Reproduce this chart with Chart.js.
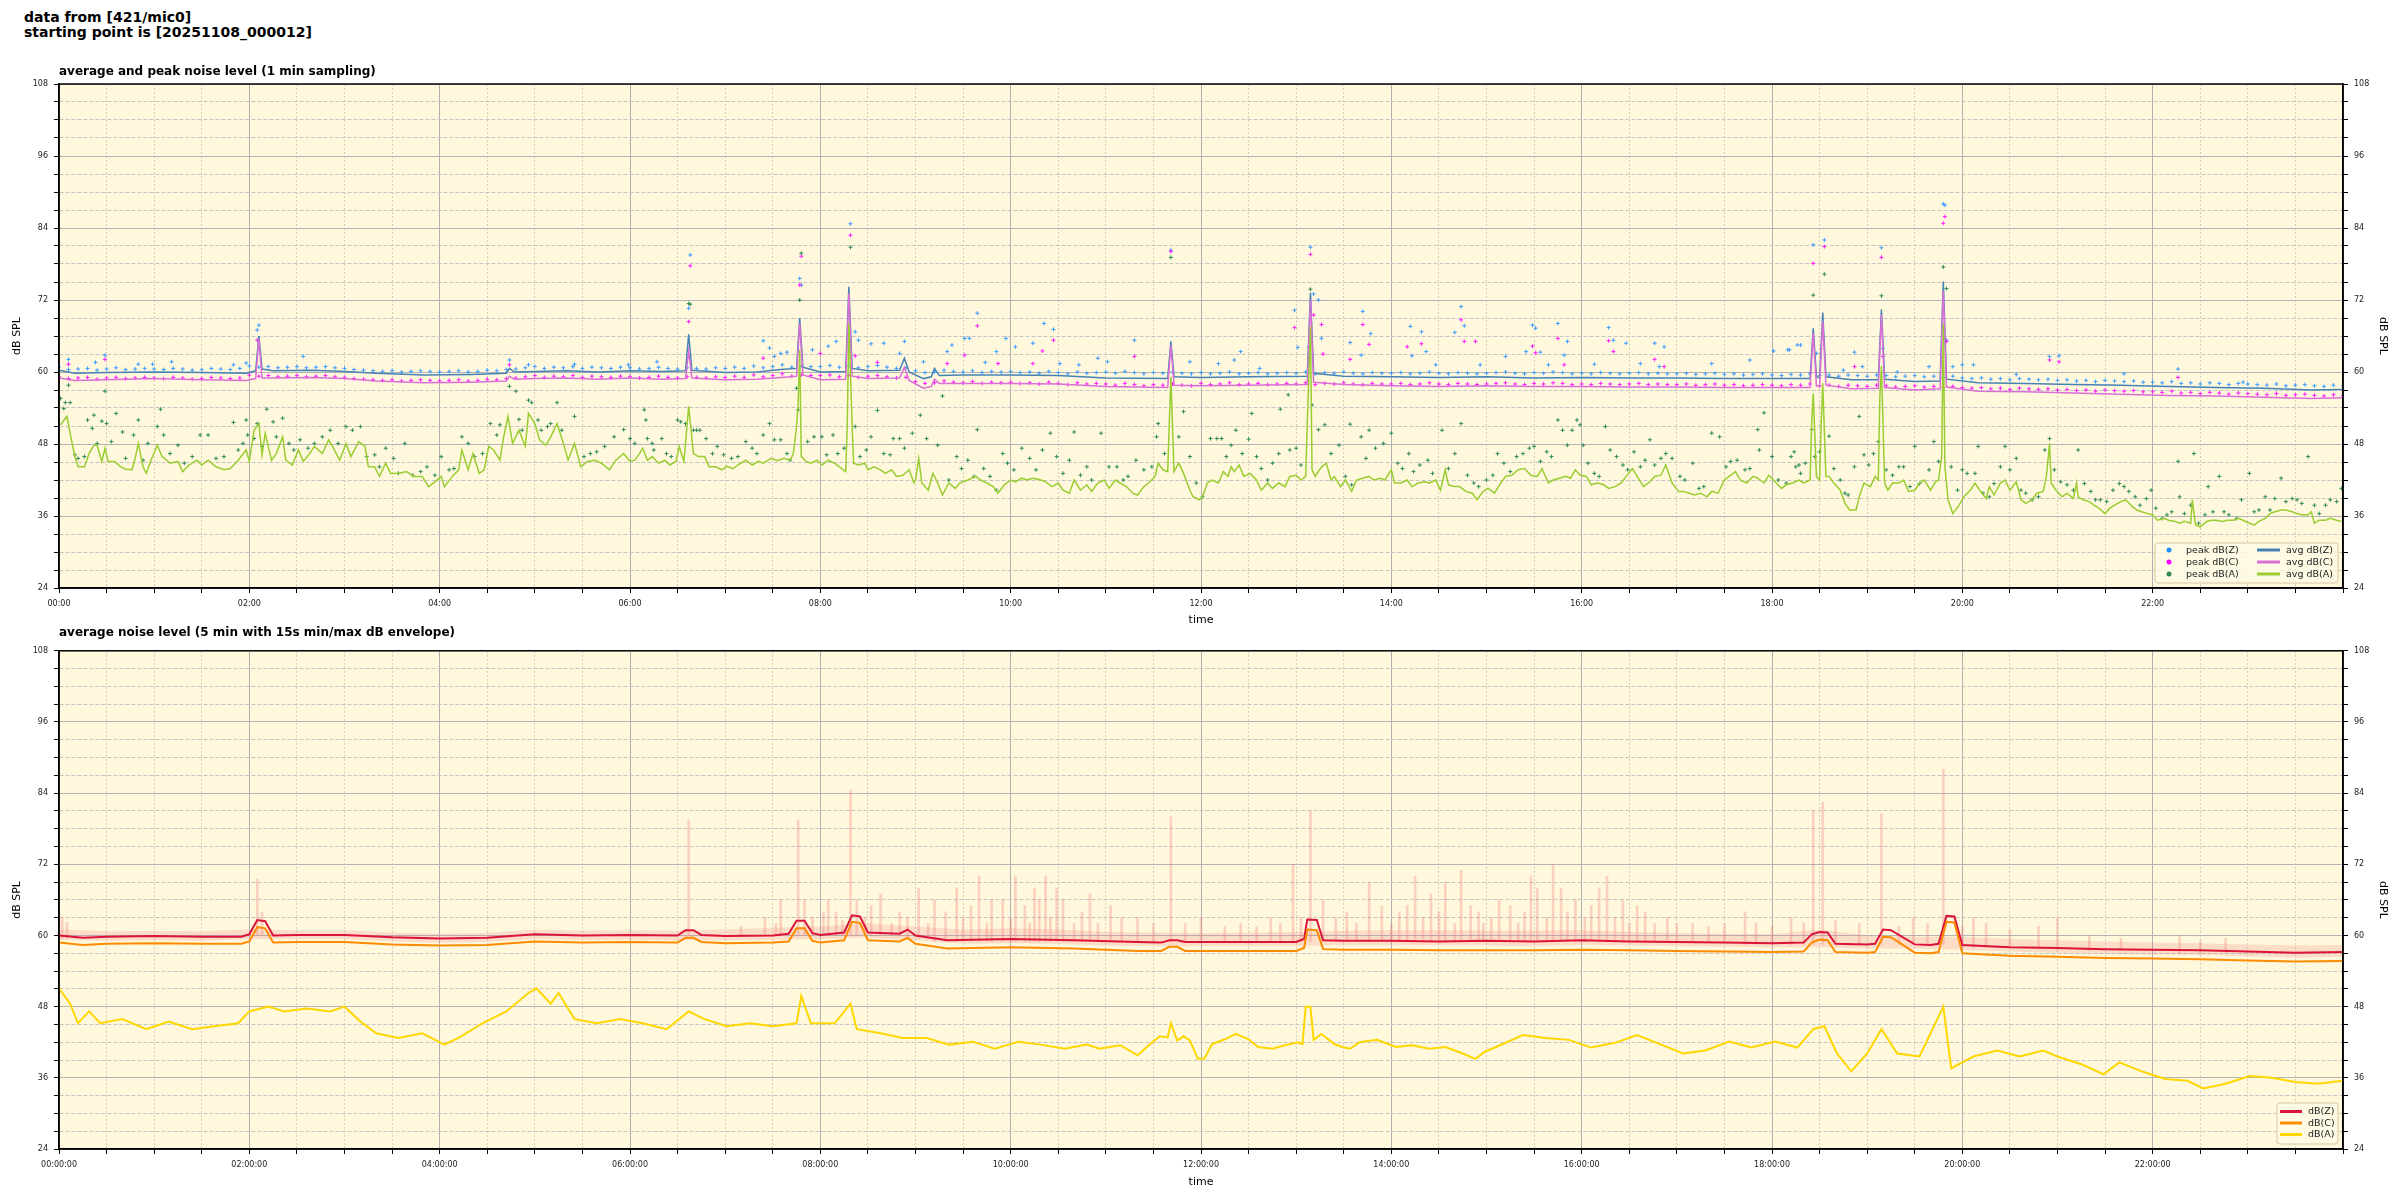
<!DOCTYPE html>
<html><head><meta charset="utf-8">
<script src="https://cdn.jsdelivr.net/npm/chart.js@4.4.1/dist/chart.umd.min.js"></script>
<style>
html,body{margin:0;padding:0;background:#fff;width:2400px;height:1200px;overflow:hidden;font-family:"DejaVu Sans",sans-serif;}
#title{position:absolute;left:24px;top:10px;font-weight:bold;font-size:14px;line-height:15px;color:#000;z-index:2;}
.sub{position:absolute;left:59px;font-weight:bold;font-size:12px;line-height:14px;color:#000;z-index:2;white-space:nowrap;}
canvas{position:absolute;left:0;}
</style></head><body>
<div id="title">data from [421/mic0]<br>starting point is [20251108_000012]</div>
<canvas id="c1" width="2400" height="572" style="top:60px;width:2400px;height:572px"></canvas>
<canvas id="c2" width="2400" height="560" style="top:640px;width:2400px;height:560px"></canvas>
<div class="sub" style="top:64px">average and peak noise level (1 min sampling)</div>
<div class="sub" style="top:625px">average noise level (5 min with 15s min/max dB envelope)</div>
<script>
// ---------- DATA (time in minutes after 00:00, value in dB SPL) ----------
const avgZ = [[0,60.3],[10,59.8],[30,59.9],[60,60.0],[90,59.9],[118,59.8],[124,60.2],[126,66.0],[128,60.5],[135,60.2],[160,60.3],[180,60.1],[200,59.8],[230,59.5],[260,59.6],[282,59.8],[284,60.6],[287,60.0],[300,60.1],[320,60.2],[340,60.0],[360,60.2],[380,60.1],[395,60.2],[397,66.3],[399,60.3],[420,59.9],[440,60.0],[455,60.4],[465,60.6],[467,69.0],[469,60.8],[480,60.0],[496,60.1],[498,74.2],[500,60.6],[510,60.2],[530,60.3],[533,62.3],[536,60.0],[545,58.9],[550,59.2],[552,60.6],[555,59.4],[570,59.5],[600,59.5],[630,59.4],[660,59.0],[699,58.9],[701,65.1],[703,59.2],[720,59.1],[750,59.2],[787,59.3],[789,73.2],[791,59.8],[810,59.3],[840,59.2],[870,59.1],[900,59.2],[930,59.0],[960,59.1],[990,59.0],[1020,59.0],[1050,58.9],[1080,58.9],[1104,58.9],[1106,67.3],[1108,59.2],[1110,59.0],[1112,69.9],[1114,59.2],[1130,58.7],[1147,58.7],[1149,70.4],[1151,58.8],[1170,58.4],[1186,58.5],[1188,75.1],[1190,58.8],[1210,58.2],[1240,58.1],[1270,57.9],[1300,57.8],[1330,57.6],[1360,57.4],[1390,57.3],[1420,57.0],[1440,57.1]];
const avgC = [[0,59.0],[10,58.6],[30,58.7],[60,58.9],[90,58.7],[118,58.6],[124,58.9],[126,65.5],[128,59.0],[135,59.0],[160,59.1],[180,58.9],[200,58.5],[230,58.2],[260,58.3],[282,58.5],[284,59.3],[287,58.8],[300,58.9],[320,59.0],[340,58.8],[360,59.0],[380,58.8],[395,58.9],[397,63.5],[399,59.0],[420,58.7],[440,58.8],[455,59.1],[465,59.3],[467,68.1],[469,59.5],[480,58.7],[496,58.8],[498,73.1],[500,59.3],[510,58.9],[530,59.0],[533,60.8],[536,58.6],[545,57.3],[550,57.6],[552,58.8],[555,58.1],[570,58.1],[600,58.1],[630,58.0],[660,57.6],[699,57.4],[701,64.5],[703,57.8],[720,57.7],[750,57.8],[787,57.9],[789,72.0],[791,58.3],[810,57.9],[840,57.7],[870,57.6],[900,57.7],[930,57.6],[960,57.6],[990,57.5],[1020,57.5],[1050,57.4],[1080,57.4],[1104,57.4],[1106,66.5],[1108,57.7],[1110,57.6],[1112,68.5],[1114,57.8],[1130,57.2],[1147,57.3],[1149,69.5],[1151,57.4],[1170,57.0],[1186,57.2],[1188,73.5],[1190,57.5],[1210,56.8],[1240,56.7],[1270,56.5],[1300,56.3],[1330,56.1],[1360,56.0],[1390,55.8],[1420,55.6],[1440,55.7]];
const avgA = [[1,51.2],[5,52.6],[7,49.8],[10,45.9],[12,44.2],[16,44.2],[19,46.4],[22,47.8],[24,47.8],[27,45.1],[29,47.3],[31,45.1],[35,45.1],[39,44.2],[42,43.8],[46,43.7],[48,45.6],[50,48.1],[53,44.2],[55,43.1],[58,45.3],[62,47.8],[65,45.9],[70,44.8],[75,45.1],[78,43.4],[82,44.5],[87,45.3],[90,44.5],[94,45.3],[99,44.2],[104,43.7],[108,43.9],[113,45.3],[118,47.0],[120,45.1],[123,50.3],[126,51.4],[128,46.2],[130,49.8],[134,45.3],[137,46.4],[141,49.2],[143,45.3],[147,44.5],[151,47.0],[154,45.1],[158,46.4],[161,47.6],[166,46.4],[170,48.7],[173,47.3],[177,45.3],[181,48.1],[184,45.9],[189,48.4],[193,47.6],[195,44.2],[199,44.2],[202,42.6],[206,44.8],[209,43.1],[214,43.1],[219,43.4],[224,42.6],[229,42.6],[233,40.9],[237,41.7],[241,42.6],[243,40.9],[248,42.6],[252,43.7],[254,47.0],[258,43.7],[261,46.4],[265,43.1],[268,43.7],[271,47.6],[274,47.0],[278,45.3],[280,48.7],[283,52.6],[286,48.1],[290,50.3],[294,47.6],[296,53.1],[300,51.4],[303,48.7],[307,47.8],[310,49.2],[314,51.4],[318,48.1],[321,45.3],[325,48.1],[329,44.2],[333,45.1],[338,45.3],[342,44.8],[347,43.7],[351,45.3],[356,46.4],[360,45.1],[363,45.3],
[366,46.4],[368,47.3],[371,45.3],[374,45.9],[378,44.8],[382,45.3],[385,44.5],[389,45.1],[391,47.6],[394,45.1],[395,48.1],[397,54.3],[400,46.4],[403,45.9],[407,45.9],[410,44.2],[414,44.2],[418,43.7],[421,44.3],[425,43.9],[428,44.5],[433,45.3],[437,44.5],[441,45.1],[444,44.8],[449,45.6],[453,45.2],[457,45.6],[461,45.3],[463,46.4],[465,50.9],[466,54.8],[467,63.7],[468,45.9],[471,45.1],[474,44.8],[478,45.3],[481,44.5],[485,45.3],[489,44.8],[492,44.2],[496,43.4],[497,51.4],[498,68.1],[500,51.4],[501,44.8],[504,44.5],[508,44.8],[510,43.7],[514,44.2],[518,43.7],[521,43.1],[525,43.7],[528,42.6],[532,42.8],[536,43.7],[539,41.5],[540,42.0],[542,45.6],[544,41.5],[548,40.3],[551,43.1],[554,41.5],[557,39.5],[561,41.5],[565,40.6],[568,41.5],[573,42.0],[578,42.6],[581,42.0],[585,41.5],[589,40.9],[592,39.8],[596,41.2],[600,42.0],[603,41.7],[607,42.3],[610,42.0],[614,42.3],[619,42.0],[622,41.7],[626,40.9],[630,41.5],[633,40.3],[637,39.8],[640,42.0],[644,40.3],[648,41.2],[651,40.1],[655,41.5],[659,42.0],[662,40.6],[666,42.0],[669,41.5],[673,40.9],[677,39.8],[680,39.5],[684,40.9],[687,41.5],[691,42.6],[693,44.8],[696,43.7],[699,43.4],[700,51.4],[701,59.2],[703,43.4],[706,44.8],[709,43.1],[713,40.3],[715,39.2],[719,38.7],[721,39.2],[724,41.5],[727,42.0],[731,41.5],
[734,43.4],[737,42.6],[739,44.2],[741,43.4],[744,44.5],[747,42.6],[751,43.1],[755,42.0],[758,40.3],[762,41.5],[765,40.6],[769,41.5],[773,40.9],[776,42.6],[780,42.8],[783,42.0],[786,42.6],[787,51.4],[789,67.6],[790,43.7],[792,42.6],[796,44.2],[799,44.8],[802,42.0],[804,42.6],[808,40.9],[811,42.0],[815,40.1],[818,42.0],[822,42.3],[826,42.6],[829,42.0],[833,42.3],[836,42.0],[840,43.7],[842,41.5],[846,41.5],[850,42.0],[853,40.9],[857,41.5],[861,41.7],[864,41.5],[868,42.0],[871,40.3],[874,43.7],[876,41.2],[880,40.9],[883,40.9],[887,40.1],[891,39.8],[894,38.7],[898,40.1],[901,40.6],[905,39.8],[909,41.5],[912,42.6],[916,42.8],[920,43.7],[924,43.9],[928,42.8],[932,42.6],[935,43.9],[939,41.5],[942,42.0],[946,42.3],[950,42.6],[953,42.3],[956,43.7],[959,42.8],[963,42.6],[966,41.2],[970,41.5],[974,41.2],[977,40.6],[981,40.9],[985,41.5],[988,42.6],[992,43.9],[995,42.6],[999,40.9],[1003,41.7],[1006,42.6],[1010,42.8],[1013,44.5],[1017,41.5],[1021,40.1],[1024,40.1],[1028,39.8],[1031,39.5],[1035,39.8],[1039,39.2],[1042,40.1],[1046,39.8],[1050,42.0],[1053,42.6],[1057,43.4],[1060,42.0],[1064,41.5],[1068,42.6],[1071,42.3],[1075,41.5],[1078,42.8],[1082,41.7],[1086,40.6],[1089,41.2],[1093,41.5],[1097,42.0],[1100,41.5],[1104,42.0],[1105,51.4],[1106,56.4],[1108,42.6],
[1110,42.0],[1111,51.4],[1112,58.1],[1114,42.6],[1116,42.6],[1119,41.5],[1123,40.3],[1126,38.1],[1129,37.0],[1133,37.0],[1135,39.2],[1138,41.5],[1142,40.9],[1145,42.6],[1147,42.0],[1148,55.9],[1149,61.0],[1151,41.5],[1153,40.3],[1156,41.5],[1160,41.5],[1163,42.0],[1166,40.1],[1170,40.3],[1173,41.5],[1176,42.0],[1180,40.3],[1183,41.7],[1185,42.0],[1187,45.9],[1188,68.1],[1189,44.2],[1191,38.7],[1194,36.4],[1198,37.8],[1201,39.2],[1205,40.3],[1208,41.5],[1211,40.3],[1215,38.9],[1217,40.9],[1220,39.5],[1224,41.5],[1227,42.0],[1230,40.3],[1234,41.7],[1237,38.7],[1240,38.1],[1244,38.7],[1247,39.8],[1251,40.1],[1253,42.6],[1255,48.1],[1256,41.5],[1259,40.3],[1263,39.2],[1266,39.8],[1270,38.9],[1272,41.5],[1273,39.2],[1276,38.7],[1280,38.4],[1283,37.8],[1286,37.3],[1290,36.4],[1293,37.3],[1296,37.8],[1300,38.4],[1303,38.7],[1307,37.6],[1310,37.0],[1313,36.7],[1317,36.4],[1320,36.2],[1323,35.3],[1327,35.6],[1330,35.3],[1334,35.1],[1337,34.8],[1340,35.1],[1344,34.8],[1345,38.7],[1347,34.5],[1350,34.2],[1354,35.1],[1357,35.3],[1360,35.3],[1364,35.1],[1367,35.3],[1371,35.3],[1374,35.6],[1377,35.3],[1381,34.8],[1384,34.5],[1387,35.1],[1391,35.6],[1394,36.4],[1397,36.7],[1401,37.0],[1404,37.0],[1408,36.7],[1411,36.4],[1414,36.2],[1418,36.2],[1420,36.7],[1422,34.8],[1425,35.3],[1429,35.3],[1432,35.6],[1436,35.3],[1439,35.1]];

// dense 1-min peak bands, sampled every 6 minutes from 00:00
const bandStepMin = 6;
const peakZBand = [60.8,60.4,60.5,60.6,60.3,60.5,60.7,60.4,60.5,60.6, 60.5,60.4,60.6,60.5,60.3,60.4,60.6,60.5,60.4,60.6, 61.0,60.8,60.9,60.7,60.8,60.9,60.7,60.8,60.9,60.7, 60.6,60.4,60.3,60.2,60.1,60.2,60.0,60.1,60.2,60.1, 60.0,60.1,60.2,60.0,60.1,60.3,60.2,60.4,60.5,60.7, 60.9,60.6,60.8,60.7,60.9,60.6,60.8,60.7,60.6,60.8, 60.7,60.5,60.6,60.8,60.6,60.5,60.7,60.6,60.5,60.7, 60.6,60.8,60.6,61.0,60.7,60.9,61.2,60.8,61.0,60.9, 60.9,61.1,60.8,61.0,60.7,60.9,61.1,60.8,60.6,60.7, 60.2,59.9,60.0,60.3,60.1,60.0,60.2,59.9,60.1,60.0, 60.1,59.9,60.0,59.8,60.1,59.9,59.7,60.0,59.8,59.9, 60.0,59.8,60.1,59.9,59.7,59.9,59.8,60.0,59.8,59.7, 59.9,59.7,59.8,60.0,59.7,59.8,59.9,59.7,59.8,59.9, 59.8,60.0,59.7,59.9,59.8,60.0,59.8,59.7,59.9,59.8, 59.8,59.9,59.7,59.8,60.0,59.8,59.7,59.9,59.8,59.7, 59.8,59.9,60.0,59.8,59.7,59.9,59.8,60.0,59.9,59.7, 59.8,59.7,59.9,59.8,59.7,59.8,59.9,59.7,59.8,59.7, 59.7,59.8,59.6,59.7,59.8,59.6,59.7,59.5,59.6,59.7, 59.5,59.4,59.6,59.5,59.7,59.4,59.5,59.3,59.5,59.4, 59.3,59.5,59.4,59.2,59.3,59.4,59.2,59.3,59.1,59.3, 59.0,58.9,59.0,58.8,58.9,58.7,58.9,58.8,58.7,58.8, 58.6,58.7,58.5,58.6,58.4,58.6,58.5,58.4,58.5,58.3, 58.3,58.2,58.4,58.1,58.2,58.0,58.2,58.1,57.9,58.1, 58.0,57.9,57.8,58.0,57.7,57.8,57.9,57.7,57.6,57.8, 57.7];
const peakCBand = [59.2,58.9,59.0,59.1,58.8,59.0,59.1,58.9,59.0,59.1, 59.0,58.9,59.1,59.0,58.8,58.9,59.1,59.0,58.9,59.0, 59.5,59.3,59.4,59.2,59.3,59.4,59.2,59.3,59.4,59.2, 59.1,58.9,58.8,58.7,58.6,58.7,58.5,58.6,58.7,58.6, 58.5,58.6,58.7,58.5,58.6,58.8,58.7,58.9,59.0,59.2, 59.4,59.1,59.3,59.2,59.4,59.1,59.3,59.2,59.1,59.3, 59.2,59.0,59.1,59.3,59.1,59.0,59.2,59.1,59.0,59.2, 59.1,59.3,59.1,59.5,59.2,59.4,59.7,59.3,59.5,59.4, 59.4,59.5,59.2,59.4,59.1,59.3,59.4,59.2,59.0,59.1, 58.4,58.1,58.2,58.5,58.3,58.2,58.4,58.1,58.3,58.2, 58.3,58.1,58.2,58.0,58.3,58.1,57.9,58.2,58.0,58.1, 58.0,57.8,58.1,57.9,57.7,57.9,57.8,58.0,57.8,57.7, 58.1,57.9,58.0,58.2,57.9,58.0,58.1,57.9,58.0,58.1, 58.0,58.2,57.9,58.1,58.0,58.2,58.0,57.9,58.1,58.0, 58.0,58.1,57.9,58.0,58.2,58.0,57.9,58.1,58.0,57.9, 58.0,58.1,58.2,58.0,57.9,58.1,58.0,58.2,58.1,57.9, 58.0,57.9,58.1,58.0,57.9,58.0,58.1,57.9,58.0,57.9, 57.9,58.0,57.8,57.9,58.0,57.8,57.9,57.7,57.8,57.9, 57.8,57.7,57.9,57.8,58.0,57.7,57.8,57.6,57.8,57.7, 57.6,57.8,57.7,57.5,57.6,57.7,57.5,57.6,57.4,57.6, 57.4,57.3,57.4,57.2,57.3,57.1,57.3,57.2,57.1,57.2, 57.0,57.1,56.9,57.0,56.8,57.0,56.9,56.8,56.9,56.7, 56.7,56.6,56.8,56.5,56.6,56.4,56.6,56.5,56.3,56.5, 56.4,56.3,56.2,56.4,56.1,56.2,56.3,56.1,56.0,56.2, 56.1];
const peakZOut = [[6,62.1],[23,61.6],[29,62.8],[50,61.3],[59,61.3],[71,61.7],[110,61.2],[118,61.5],[125,67.0],[126,67.8],[154,62.6],[284,62.0],[296,61.2],[325,61.3],[359,61.2],[377,61.7],[397,70.6],[398,79.5],[444,65.2],[448,64.0],[451,62.6],[455,63.1],[459,63.3],[467,75.6],[468,74.5],[475,63.7],[485,64.3],[490,65.1],[499,84.7],[502,66.7],[504,65.3],[512,64.7],[520,64.8],[530,63.1],[533,65.1],[545,61.7],[560,63.4],[563,64.5],[571,65.6],[574,65.6],[579,69.8],[584,61.6],[591,63.4],[597,65.6],[603,64.2],[614,64.8],[621,68.1],[627,67.1],[631,61.4],[643,61.2],[655,62.3],[661,61.7],[678,65.3],[701,80.3],[713,61.7],[731,61.4],[741,62.0],[745,63.4],[757,60.6],[779,70.3],[781,64.1],[788,64.2],[789,80.8],[791,73.0],[794,72.0],[796,65.6],[814,64.9],[821,62.8],[822,70.1],[827,66.4],[852,67.6],[853,62.7],[859,66.7],[862,63.4],[868,61.2],[880,66.6],[884,70.9],[886,67.7],[896,61.2],[912,62.6],[925,63.4],[929,67.8],[931,67.3],[934,63.3],[939,61.2],[945,68.1],[949,62.8],[951,65.1],[968,61.3],[977,67.4],[980,65.3],[988,64.8],[997,61.4],[1006,64.8],[1009,60.9],[1012,64.2],[1042,61.4],[1066,62.0],[1081,63.5],[1090,63.7],[1091,63.7],[1096,64.5],[1098,64.5],[1106,81.2],[1108,63.1],[1113,82.0],[1125,60.3],[1132,63.3],[1137,60.9],[1149,80.7],[1150,63.9],[1159,60.0],[1179,60.9],[1188,88.0],[1189,87.8],[1190,65.3],[1194,60.9],[1200,61.2],[1207,61.2],[1234,59.6],[1255,62.6],[1261,62.7],[1302,59.7],[1336,60.5],[1377,58.3]];
const peakCOut = [[6,61.3],[29,62.1],[125,65.3],[284,61.2],[397,68.4],[398,77.7],[444,62.3],[467,74.5],[468,79.3],[480,63.1],[499,82.8],[502,62.7],[516,61.6],[560,61.4],[571,62.8],[579,67.7],[592,61.4],[614,61.4],[620,63.5],[627,65.3],[678,62.6],[701,80.1],[779,67.4],[789,79.6],[791,69.5],[796,67.9],[797,63.0],[814,62.1],[822,67.9],[826,64.6],[850,64.2],[859,64.7],[884,68.7],[886,65.1],[893,65.1],[929,64.3],[931,63.2],[945,65.6],[949,61.2],[977,65.2],[980,63.4],[1006,62.1],[1012,60.9],[1106,78.1],[1113,80.9],[1132,60.9],[1149,79.1],[1150,62.6],[1188,84.8],[1189,85.9],[1190,65.1],[1255,62.0],[1261,61.7],[1336,59.1]];
const peakA = [[1,55.6],[3,53.9],[4,54.9],[6,57.8],[7,54.9],[10,46.2],[12,45.6],[16,45.9],[18,52.0],[21,50.6],[22,52.8],[24,48.1],[27,51.8],[29,56.8],[30,51.4],[33,48.4],[36,53.1],[40,50.0],[42,45.6],[47,49.5],[50,52.0],[53,45.3],[56,48.1],[62,50.9],[64,53.8],[66,49.5],[70,46.4],[75,47.8],[79,44.8],[84,45.9],[89,49.5],[94,49.5],[99,45.6],[104,45.9],[110,51.6],[113,47.0],[116,48.1],[118,52.0],[119,49.5],[123,48.9],[125,51.4],[128,47.6],[131,53.8],[135,51.7],[137,49.2],[141,52.3],[145,48.1],[148,47.0],[152,48.7],[157,47.3],[161,48.1],[166,49.2],[171,50.3],[176,48.1],[181,50.9],[185,50.3],[190,50.9],[194,45.9],[199,46.2],[202,44.2],[206,47.3],[211,45.6],[214,43.1],[218,48.1],[223,42.8],[228,43.4],[232,44.2],[237,42.8],[241,45.9],[246,43.7],[249,43.9],[254,49.2],[258,48.1],[262,45.9],[267,46.4],[272,51.4],[276,49.5],[278,51.2],[284,57.6],[288,56.8],[290,52.1],[292,50.3],[296,55.3],[298,54.9],[302,52.0],[304,50.3],[308,50.9],[310,51.4],[314,54.9],[317,50.3],[325,52.6],[331,45.9],[335,46.4],[339,46.7],[344,47.6],[350,49.2],[356,50.4],[360,48.9],[363,48.1],
[369,53.7],[370,52.0],[371,48.9],[374,48.1],[375,47.0],[380,48.9],[383,46.4],[386,45.9],[390,52.0],[392,51.7],[395,51.4],[397,71.4],[398,71.3],[400,50.3],[402,50.3],[404,50.3],[408,48.9],[412,46.4],[415,47.6],[419,46.2],[424,45.6],[428,45.9],[433,48.4],[437,47.3],[440,46.4],[444,49.5],[448,51.4],[451,48.7],[455,48.7],[459,46.4],[461,45.3],[465,57.3],[466,53.7],[467,72.0],[468,79.8],[472,48.4],[476,49.2],[481,49.2],[484,46.2],[488,49.5],[491,46.4],[495,47.3],[499,80.8],[502,50.9],[505,45.9],[509,47.0],[512,49.2],[516,53.6],[520,46.4],[524,46.2],[526,48.9],[530,48.9],[533,47.3],[538,49.8],[543,52.8],[547,48.9],[554,47.8],[557,56.0],[561,42.0],[566,45.9],[569,43.9],[573,45.3],[577,42.6],[579,50.4],[583,43.9],[587,42.6],[591,40.3],[595,46.4],[598,44.8],[602,43.7],[607,47.3],[612,45.6],[616,43.7],[620,47.0],[625,49.8],[629,45.9],[633,43.1],[637,45.3],[640,50.0],[644,42.8],[648,44.2],[651,42.0],[657,49.8],[662,44.2],[667,44.2],[671,42.0],[674,42.6],[679,45.3],[684,43.7],[689,44.2],[692,49.2],[693,51.4],[697,46.4],[701,79.1],[706,49.2],[709,53.4],[713,45.9],[717,41.5],[721,39.2],[726,48.9],[730,48.9],
[733,48.9],[736,45.9],[739,47.8],[742,50.3],[746,46.4],[750,48.8],[752,53.1],[755,45.9],[758,43.9],[762,42.0],[765,44.8],[769,46.4],[770,53.8],[775,56.2],[776,47.0],[780,47.3],[783,44.5],[789,73.8],[790,54.5],[794,50.4],[798,51.2],[802,46.4],[807,47.8],[811,42.6],[814,51.3],[815,41.2],[821,49.2],[824,45.6],[826,50.3],[830,47.3],[835,48.1],[840,49.8],[844,44.8],[847,43.9],[851,46.4],[854,43.4],[858,44.5],[863,45.3],[866,43.1],[872,50.3],[876,43.9],[880,46.4],[884,51.4],[888,42.8],[892,41.5],[895,40.9],[900,42.0],[904,42.8],[907,46.4],[911,44.8],[915,43.4],[919,45.9],[923,46.4],[927,47.3],[930,47.6],[934,45.1],[938,46.7],[941,45.9],[945,52.0],[948,50.3],[951,47.8],[954,50.3],[957,52.0],[959,51.2],[961,47.8],[964,44.8],[968,43.1],[971,42.6],[975,50.9],[978,47.0],[982,45.9],[986,44.5],[989,43.7],[993,46.7],[997,44.2],[1000,45.3],[1003,48.7],[1006,44.5],[1010,45.6],[1013,46.4],[1017,45.6],[1022,42.6],[1025,42.0],[1030,44.8],[1034,40.6],[1037,40.9],[1042,49.8],[1047,49.2],[1051,44.2],[1054,45.1],[1058,45.3],[1063,43.7],[1066,43.9],[1071,50.4],[1072,47.0],[1075,53.2],[1080,45.9],[1084,42.0],[1089,41.5],[1092,45.9],[1094,46.7],[1095,44.2],[1097,44.5],[1098,43.1],[1101,44.8],[1105,50.4],[1106,72.8],[1107,45.9],
[1110,46.7],[1113,76.3],[1116,49.3],[1119,43.9],[1123,42.0],[1126,39.8],[1128,39.5],[1132,44.2],[1135,52.6],[1138,46.2],[1141,44.5],[1144,46.4],[1147,48.4],[1149,72.7],[1152,43.7],[1156,42.8],[1160,44.2],[1163,44.2],[1167,40.9],[1170,47.6],[1173,41.4],[1179,43.7],[1182,48.4],[1185,45.1],[1188,77.5],[1190,73.9],[1193,44.2],[1197,40.3],[1200,43.7],[1203,43.1],[1208,43.1],[1210,47.6],[1213,39.8],[1217,39.2],[1220,41.4],[1224,44.2],[1227,47.6],[1230,43.7],[1234,45.6],[1237,40.3],[1240,39.8],[1244,38.7],[1248,39.2],[1252,47.0],[1255,48.9],[1258,43.7],[1262,41.7],[1266,41.2],[1270,40.3],[1273,47.0],[1277,41.4],[1281,40.1],[1284,38.7],[1287,38.7],[1291,38.4],[1295,40.3],[1299,41.4],[1302,40.9],[1305,40.1],[1309,39.2],[1312,37.8],[1316,38.9],[1319,40.3],[1322,37.3],[1326,35.6],[1329,36.2],[1332,36.7],[1336,45.1],[1337,39.2],[1340,36.4],[1344,37.8],[1346,46.4],[1349,34.8],[1353,36.2],[1355,40.9],[1358,36.7],[1362,42.6],[1365,36.7],[1368,36.2],[1373,35.6],[1376,38.7],[1381,43.1],[1384,36.7],[1387,37.0],[1391,39.2],[1394,37.0],[1397,38.9],[1401,42.3],[1404,38.4],[1408,38.9],[1411,38.7],[1414,38.1],[1418,45.9],[1422,37.8],[1425,36.4],[1429,37.8],[1432,38.7],[1436,38.4],[1439,40.6]];

// 5-minute averages (bottom panel)
const avg5Z = [[0,60.0],[15,59.6],[30,59.8],[60,59.9],[90,59.8],[115,59.8],[120,60.2],[125,62.6],[130,62.4],[135,60.0],[150,60.1],[180,60.1],[210,59.7],[240,59.5],[270,59.6],[285,59.9],[300,60.2],[330,60.0],[360,60.1],[390,60.0],[395,60.9],[400,60.9],[405,60.1],[420,59.9],[450,60.0],[460,60.3],[465,62.5],[470,62.5],[475,60.4],[480,60.1],[495,60.5],[500,63.4],[505,63.2],[510,60.5],[530,60.3],[535,61.0],[540,60.0],[560,59.2],[600,59.4],[640,59.2],[680,58.9],[695,58.8],[700,59.2],[705,59.2],[710,58.9],[740,58.9],[780,58.9],[785,59.4],[787,62.7],[793,62.6],[797,59.2],[810,59.1],[840,59.1],[870,59.0],[900,59.1],[930,59.0],[960,59.2],[990,59.0],[1020,58.9],[1050,58.8],[1080,58.7],[1100,58.8],[1105,60.2],[1110,60.6],[1115,60.5],[1120,58.6],[1140,58.5],[1145,58.6],[1150,61.0],[1155,60.9],[1170,58.5],[1180,58.4],[1185,58.6],[1190,63.3],[1195,63.2],[1200,58.4],[1230,58.0],[1260,57.9],[1290,57.7],[1320,57.6],[1350,57.5],[1380,57.3],[1410,57.1],[1440,57.2]];
const avg5C = [[0,58.8],[15,58.4],[30,58.6],[60,58.7],[90,58.6],[115,58.6],[120,59.0],[125,61.4],[130,61.2],[135,58.8],[150,58.9],[180,58.9],[210,58.5],[240,58.3],[270,58.4],[285,58.7],[300,59.0],[330,58.8],[360,58.9],[390,58.8],[395,59.6],[400,59.6],[405,58.9],[420,58.7],[450,58.8],[460,59.0],[465,61.2],[470,61.2],[475,59.1],[480,58.8],[495,59.2],[500,62.3],[505,62.1],[510,59.2],[530,59.0],[535,59.6],[540,58.6],[560,57.8],[600,58.0],[640,57.8],[680,57.4],[695,57.4],[700,58.1],[705,58.1],[710,57.4],[740,57.4],[780,57.4],[785,57.9],[787,61.0],[793,60.9],[797,57.7],[810,57.6],[840,57.6],[870,57.5],[900,57.5],[930,57.5],[960,57.6],[990,57.5],[1020,57.4],[1050,57.3],[1080,57.2],[1100,57.3],[1105,58.8],[1110,59.3],[1115,59.2],[1120,57.2],[1140,57.1],[1145,57.2],[1150,59.8],[1155,59.7],[1170,57.1],[1180,57.0],[1185,57.2],[1190,62.3],[1195,62.2],[1200,57.0],[1230,56.6],[1260,56.4],[1290,56.2],[1320,56.1],[1350,56.0],[1380,55.8],[1410,55.6],[1440,55.7]];
const avg5A = [[0,51.1],[7,48.5],[12,45.2],[19,47.2],[26,45.2],[40,45.9],[55,44.2],[69,45.5],[84,44.2],[98,44.7],[113,45.2],[120,47.2],[132,48.0],[142,47.2],[156,47.7],[171,47.2],[180,48.0],[190,45.5],[200,43.5],[214,42.7],[229,43.5],[243,41.6],[253,42.9],[267,45.2],[282,47.2],[296,50.3],[301,51.1],[310,48.5],[315,50.3],[325,45.9],[339,45.2],[354,45.9],[368,45.2],[383,44.2],[397,47.2],[407,45.9],[421,44.7],[436,45.2],[450,44.7],[465,45.2],[468,49.8],[474,45.2],[489,45.2],[499,48.5],[503,44.2],[518,43.5],[532,42.7],[547,42.7],[561,41.6],[576,42.1],[590,40.9],[605,42.1],[619,41.6],[634,40.9],[648,41.6],[656,40.9],[669,41.5],[680,39.8],[688,41.7],[694,43.0],[699,42.8],[701,45.2],[705,42.3],[709,43.0],[713,42.3],[718,39.2],[722,39.2],[727,41.7],[735,42.5],[742,43.4],[750,42.5],[756,41.2],[765,40.9],[773,41.5],[781,42.0],[784,41.7],[786,48.0],[789,48.0],[791,42.4],[796,43.4],[804,41.7],[809,41.2],[814,40.9],[820,42.0],[831,42.4],[838,41.7],[843,41.2],[853,41.5],[864,40.9],[874,41.2],[885,40.1],[893,39.2],[899,40.4],[906,41.2],[923,43.2],[937,42.7],[952,42.4],[966,41.1],[981,41.9],[995,43.2],[1010,41.6],[1024,40.1],[1038,40.6],[1053,42.1],[1067,41.1],[1082,42.1],[1096,41.1],[1106,44.2],[1113,44.7],[1121,40.1],[1130,37.1],[1140,40.1],[1149,44.2],[1159,40.1],[1173,39.6],[1188,48.0],[1193,37.6],[1207,39.6],[1222,40.6],[1236,39.6],[1251,40.6],[1260,39.6],[1275,38.3],[1289,36.6],[1299,38.6],[1313,37.1],[1328,35.8],[1342,35.5],[1352,34.2],[1366,35.0],[1381,36.3],[1395,36.0],[1410,35.3],[1424,35.0],[1440,35.5]];
// 15 s min/max envelope of dB(Z): broad band [time, min, max]
const envZBand = [[0,59.3,61.0],[30,59.1,60.7],[60,59.2,60.8],[90,59.1,60.7],[120,59.4,61.0],[150,59.4,60.9],[180,59.4,60.9],[210,59.0,60.5],[240,58.8,60.3],[270,58.9,60.4],[300,59.4,61.0],[330,59.3,60.8],[360,59.3,60.9],[390,59.2,60.8],[420,59.2,61.0],[450,59.3,61.3],[480,59.4,61.5],[510,59.6,62.0],[540,59.2,61.5],[570,58.6,61.0],[600,58.7,61.2],[630,58.6,61.0],[660,58.3,60.6],[690,58.2,60.5],[720,58.2,60.4],[750,58.2,60.5],[780,58.2,60.6],[810,58.4,60.8],[840,58.4,60.9],[870,58.3,60.9],[900,58.3,60.8],[930,58.2,60.8],[960,58.4,60.9],[990,58.3,60.6],[1020,58.2,60.4],[1050,58.1,60.3],[1080,58.0,60.2],[1110,58.0,61.0],[1140,57.8,60.0],[1170,57.8,59.8],[1200,57.6,59.8],[1230,57.3,59.4],[1260,57.1,59.2],[1290,56.9,59.0],[1320,56.8,58.8],[1350,56.7,58.7],[1380,56.5,58.5],[1410,56.3,58.3],[1440,56.4,58.4]];
// 15 s max spikes of dB(Z): [time, low, high]
const envZSpikes = [[2,59.5,63.0],[5,59.5,62.2],[125,60,69.5],[128,60,64],[397,60,79.5],[430,60,61.5],[445,60,63],[452,60,62],[455,60,66],[466,60,79.5],[470,60,66],[475,60,63],[482,60,64],[485,60,66],[490,60,64],[494,60,62.5],[499,60,84.5],[503,60,66],[508,60,63],[512,60,65],[518,60,67],[525,60,62],[530,60,64],[535,59.5,63],[542,59.5,68],[548,59.5,62],[552,59,66],[559,59,64],[566,59,68],[570,59,63],[575,59,65],[580,59,70],[585,59,62],[588,59,66],[595,59,66],[600,59,63],[603,59,70],[609,59,65],[612,59,62],[615,59,68],[618,59,66],[622,59,70],[625,59,63],[629,59,68],[633,59,66],[640,59,62],[645,59,64],[650,59,67],[655,59,62],[663,59,65],[670,59,63],[680,59,63],[690,59,62],[701,59,80],[710,59,62],[720,59,63],[735,59,61.5],[745,59,62],[755,59,61.5],[764,59,63],[770,59,62],[778,59,72],[783,59,63],[789,59,81],[797,59,66],[805,59,63],[812,59,64],[818,59,62],[826,59,69],[834,59,65],[840,59,62],[845,59,64],[850,59,65],[855,59,70],[860,59,63],[865,59,67],[870,59,64],[874,59,69],[880,59,62],[884,59,71],[890,59,65],[895,59,64],[898,59,62],[903,59,63],[908,59,66],[915,59,65],[920,59,62],[924,59,64],[928,59,70],[932,59,68],[938,59,63],[942,59,72],[947,59,68],[951,59,64],[956,59,66],[962,59,63],[966,59,65],[971,59,68],[976,59,70],[981,59,63],[986,59,66],[990,59,62],[995,59,65],[1000,59,64],[1006,59,62],[1014,59,63],[1020,59,62],[1030,59,62],[1040,59,61.5],[1050,59,62],[1063,58.5,64],[1070,58.5,62],[1080,58.5,61.5],[1092,58.5,63],[1100,58.5,62],[1106,58.5,81],[1112,58.5,82.5],[1120,58.5,62.5],[1135,58.5,62],[1149,58.5,80.5],[1160,58.5,61.5],[1169,58.5,63],[1178,58.5,62],[1188,58.5,88],[1200,58,61.5],[1207,58,63],[1215,58,62],[1230,58,61],[1248,58,61.5],[1260,57.5,63],[1280,57.5,60],[1300,57.5,59.5],[1337,57,60],[1350,57,59],[1366,57,59.5]];

// ---------- RENDERING ----------
Chart.defaults.font.family = '"DejaVu Sans", sans-serif';
Chart.defaults.color = '#000';
const BG = '#fff8dc';
const toXY = arr => arr.map(p => ({x: p[0], y: p[1]}));
const bandXY = vals => vals.map((v, i) => ({x: i * bandStepMin, y: v}));
const pad2 = n => String(n).padStart(2, '0');

const framePlugin = {
  id: 'frame',
  beforeDraw(chart) {
    const a = chart.chartArea, c = chart.ctx;
    c.save(); c.fillStyle = BG; c.fillRect(a.left, a.top, a.right - a.left, a.bottom - a.top); c.restore();
  },
  afterDraw(chart, args, opts) {
    const a = chart.chartArea, c = chart.ctx;
    c.save(); c.strokeStyle = '#000'; c.lineWidth = 1.5;
    c.strokeRect(a.left, a.top, a.right - a.left, a.bottom - a.top);
    const L = opts.legend;
    if (L) {
      const x0 = a.right - 5 - L.w, y0 = a.bottom - 5 - L.h;
      c.beginPath(); c.roundRect(x0, y0, L.w, L.h, 3);
      c.fillStyle = 'rgba(255,250,228,0.85)'; c.fill();
      c.strokeStyle = '#dcc7a3'; c.lineWidth = 1; c.stroke();
      c.font = '9.5px "DejaVu Sans"'; c.textBaseline = 'middle'; c.textAlign = 'left';
      L.items.forEach(it => {
        const y = y0 + it.dy;
        if (it.kind === 'dot') {
          c.fillStyle = it.color; c.beginPath(); c.arc(x0 + it.mx, y, 2.5, 0, Math.PI * 2); c.fill();
        } else {
          c.strokeStyle = it.color; c.lineWidth = it.lw; c.beginPath();
          c.moveTo(x0 + it.mx, y); c.lineTo(x0 + it.mx2, y); c.stroke();
        }
        c.fillStyle = '#222'; c.fillText(it.label, x0 + it.tx, y + 0.5);
      });
    }
    c.restore();
  }
};

function scalesFor(o) {
  const yTick = v => (v % 12 === 0 ? String(v) : '');
  const yGrid = {
    color: c => (c.tick && c.tick.value % 12 === 0) ? '#b4b4b4' : '#c4c4c4',
    lineWidth: 1, tickLength: 5, tickColor: '#000', tickWidth: 1
  };
  const yBorderDash = c => (c.tick && c.tick.value % 12 !== 0) ? [4, 2] : [];
  return {
    x: {
      type: 'linear', min: 0, max: 1440, offset: false,
      afterFit: s => { s.height = o.xH; },
      ticks: { stepSize: 30, autoSkip: false, maxRotation: 0, minRotation: 0, padding: 6, font: {size: 8}, color: '#222',
        callback: v => (v % 120 === 0 && v < 1440) ? o.fmt(v) : '' },
      grid: { color: c => (c.tick && c.tick.value % 120 === 0) ? '#b0b0b0' : '#d4cdbd', lineWidth: 1, tickLength: 5, tickColor: '#000', tickWidth: 1, offset: false },
      border: { display: true, color: '#000', width: 1.5, dash: c => (c.tick && c.tick.value % 120 !== 0) ? [2, 2] : [] },
      title: { display: true, text: 'time', font: {size: 11}, color: '#000', padding: {top: 0, bottom: o.xTitlePad} }
    },
    y: {
      type: 'linear', position: 'left', min: 24, max: 108,
      afterFit: s => { s.width = 59; },
      ticks: { stepSize: 3, autoSkip: false, padding: 6, font: {size: 8}, color: '#222', callback: yTick },
      grid: yGrid,
      border: { display: true, color: '#000', width: 1.5, dash: yBorderDash },
      title: { display: true, text: 'dB SPL', font: {size: 11}, color: '#000', padding: {top: 11, bottom: 0} }
    },
    y2: {
      type: 'linear', position: 'right', min: 24, max: 108,
      afterFit: s => { s.width = 57; },
      ticks: { stepSize: 3, autoSkip: false, padding: 6, font: {size: 8}, color: '#222', callback: yTick },
      grid: { drawOnChartArea: false, tickLength: 5, tickColor: '#000', tickWidth: 1 },
      border: { display: true, color: '#000', width: 1.5 },
      title: { display: true, text: 'dB SPL', font: {size: 11}, color: '#000', padding: {top: 11, bottom: 0} }
    }
  };
}

const common = {
  responsive: false, animation: false, events: [], devicePixelRatio: 1,
  elements: { line: { tension: 0, fill: false }, point: { radius: 0 } }
};

new Chart(document.getElementById('c1'), {
  type: 'line',
  data: { datasets: [
    { label: 'avg dB(A)', data: toXY(avgA), borderColor: '#9acd32', borderWidth: 1.5, pointRadius: 0, order: 0 },
    { label: 'avg dB(C)', data: toXY(avgC), borderColor: '#da70d6', borderWidth: 1.5, pointRadius: 0, order: 1 },
    { label: 'avg dB(Z)', data: toXY(avgZ), borderColor: '#4682b4', borderWidth: 1.5, pointRadius: 0, order: 2 },
    { label: 'peak dB(A)', data: toXY(peakA), showLine: false, pointStyle: 'cross', pointRadius: 2, pointBorderWidth: 1, borderColor: '#2e8b57', backgroundColor: '#2e8b57', order: 3 },
    { label: 'peak dB(C)', data: bandXY(peakCBand).concat(toXY(peakCOut)), showLine: false, pointStyle: 'cross', pointRadius: 2, pointBorderWidth: 1, borderColor: '#ff1aff', backgroundColor: '#ff1aff', order: 4 },
    { label: 'peak dB(Z)', data: bandXY(peakZBand).concat(toXY(peakZOut)), showLine: false, pointStyle: 'cross', pointRadius: 2, pointBorderWidth: 1, borderColor: '#3c9cff', backgroundColor: '#3c9cff', order: 5 }
  ]},
  options: Object.assign({}, common, {
    layout: { padding: { top: 24, left: 0, right: 0, bottom: 0 } },
    scales: scalesFor({ xH: 44, xTitlePad: 5, fmt: v => pad2(v / 60) + ':00' }),
    plugins: {
      legend: { display: false }, tooltip: { enabled: false },
      frame: { legend: { w: 183, h: 40, items: [
        { kind: 'dot', color: '#1e90ff', label: 'peak dB(Z)', dy: 7, mx: 14, tx: 31 },
        { kind: 'dot', color: '#ff00ff', label: 'peak dB(C)', dy: 19, mx: 14, tx: 31 },
        { kind: 'dot', color: '#2e8b57', label: 'peak dB(A)', dy: 31, mx: 14, tx: 31 },
        { kind: 'line', color: '#4682b4', lw: 3, label: 'avg dB(Z)', dy: 7, mx: 102, mx2: 125, tx: 131 },
        { kind: 'line', color: '#da70d6', lw: 3, label: 'avg dB(C)', dy: 19, mx: 102, mx2: 125, tx: 131 },
        { kind: 'line', color: '#9acd32', lw: 3, label: 'avg dB(A)', dy: 31, mx: 102, mx2: 125, tx: 131 }
      ]}}
    }
  }),
  plugins: [framePlugin]
});

new Chart(document.getElementById('c2'), {
  type: 'line',
  data: { datasets: [
    { label: 'dB(A)', data: toXY(avg5A), borderColor: '#ffd700', borderWidth: 2, pointRadius: 0, order: 0 },
    { label: 'dB(C)', data: toXY(avg5C), borderColor: '#ff8c00', borderWidth: 2, pointRadius: 0, order: 1 },
    { label: 'dB(Z)', data: toXY(avg5Z), borderColor: '#dc143c', borderWidth: 2, pointRadius: 0, order: 2 },
    { type: 'bar', label: 'dB(Z) 15s max', data: envZSpikes.map(e => ({x: e[0], y: [e[1], e[2]]})), backgroundColor: 'rgba(240,128,128,0.32)', borderWidth: 0, barThickness: 2, grouped: false, order: 3 },
    { label: 'dB(Z) 15s min', data: envZBand.map(e => ({x: e[0], y: e[1]})), borderWidth: 0, borderColor: 'rgba(0,0,0,0)', pointRadius: 0, fill: false, order: 4 },
    { label: 'dB(Z) 15s max band', data: envZBand.map(e => ({x: e[0], y: e[2]})), borderWidth: 0, borderColor: 'rgba(0,0,0,0)', pointRadius: 0, fill: '-1', backgroundColor: 'rgba(240,128,128,0.22)', order: 5 }
  ]},
  options: Object.assign({}, common, {
    layout: { padding: { top: 6, left: 0, right: 0, bottom: 0 } },
    scales: scalesFor({ xH: 51, xTitlePad: 11, fmt: v => pad2(v / 60) + ':00:00' }),
    plugins: {
      legend: { display: false }, tooltip: { enabled: false },
      filler: { propagate: false },
      frame: { legend: { w: 61, h: 41, items: [
        { kind: 'line', color: '#dc143c', lw: 3, label: 'dB(Z)', dy: 8.5, mx: 3, mx2: 25, tx: 31 },
        { kind: 'line', color: '#ff8c00', lw: 3, label: 'dB(C)', dy: 20, mx: 3, mx2: 25, tx: 31 },
        { kind: 'line', color: '#ffd700', lw: 3, label: 'dB(A)', dy: 31.5, mx: 3, mx2: 25, tx: 31 }
      ]}}
    }
  }),
  plugins: [framePlugin]
});
</script>
</body></html>
